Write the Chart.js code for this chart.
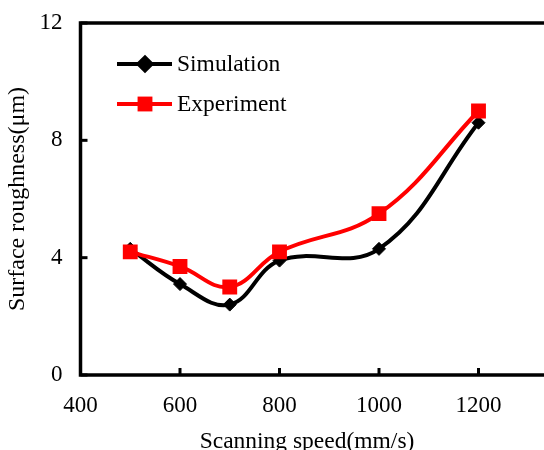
<!DOCTYPE html>
<html><head><meta charset="utf-8">
<script src="https://cdn.jsdelivr.net/npm/chart.js@4.4.1/dist/chart.umd.min.js"></script>
<style>
html,body{margin:0;padding:0;background:#fff;overflow:hidden}
#wrap{width:544px;height:450px;overflow:hidden;position:relative;background:#fff}
#c{position:absolute;left:0;top:0}
</style></head><body>
<div id="wrap"><canvas id="c" width="608" height="470"></canvas></div>
<script>
const speeds = [500, 600, 700, 800, 1000, 1200];
const simulation = [4.3, 3.1, 2.4, 3.9, 4.3, 8.6];
const experiment = [4.2, 3.7, 3.0, 4.2, 5.5, 9.0];
const xTicks = [400, 600, 800, 1000, 1200, 1400];
const yTicks = [0, 4, 8, 12];
const seriesNames = ['Simulation', 'Experiment'];
const xTitle = 'Scanning speed(mm/s)';
const yTitle = 'Surface roughness(\u03bcm)';

const FAMILY = "'Liberation Serif', 'Times New Roman', serif";
const FONT = {family: FAMILY, size: 23, weight: 'normal'};

const frame = {
  id: 'frame',
  beforeDatasetsDraw(chart) {
    const {ctx, chartArea: a, scales} = chart;
    ctx.save();
    ctx.strokeStyle = '#000';
    ctx.lineWidth = 3.5;
    ctx.strokeRect(a.left, a.top, a.right - a.left, a.bottom - a.top);
    ctx.lineWidth = 3;
    scales.x.ticks.forEach(t => {
      const px = scales.x.getPixelForValue(t.value);
      ctx.beginPath(); ctx.moveTo(px, a.bottom); ctx.lineTo(px, a.bottom - 7); ctx.stroke();
    });
    scales.y.ticks.forEach(t => {
      const py = scales.y.getPixelForValue(t.value);
      ctx.beginPath(); ctx.moveTo(a.left, py); ctx.lineTo(a.left + 7, py); ctx.stroke();
    });
    ctx.restore();
  }
};

const texts = {
  id: 'texts',
  afterDraw(chart) {
    const {ctx} = chart;
    ctx.save();
    chart.data.datasets.forEach((ds, i) => {
      const y = 64 + i * 40;
      ctx.strokeStyle = ds.borderColor;
      ctx.lineWidth = 4;
      ctx.beginPath(); ctx.moveTo(117, y); ctx.lineTo(172, y); ctx.stroke();
      ctx.fillStyle = ds.pointBackgroundColor;
      ctx.strokeStyle = ds.pointBorderColor;
      Chart.helpers.drawPoint(ctx, {pointStyle: ds.pointStyle, radius: ds.pointRadius, borderWidth: ds.pointBorderWidth, rotation: 0}, 145, y);
      ctx.fillStyle = '#000';
      ctx.font = "23.5px " + FAMILY;
      ctx.textBaseline = 'middle';
      ctx.textAlign = 'left';
      ctx.fillText(ds.label, 177, y + 1);
    });
    // x-axis title
    ctx.fillStyle = '#000';
    ctx.font = "23.5px " + FAMILY;
    ctx.textAlign = 'center';
    ctx.textBaseline = 'alphabetic';
    ctx.fillText(xTitle, 307, 448);
    ctx.restore();
  }
};

new Chart(document.getElementById('c'), {
  type: 'line',
  data: {
    datasets: [
      {
        label: seriesNames[0],
        data: speeds.map((s, i) => ({x: s, y: simulation[i]})),
        borderColor: '#000', backgroundColor: '#000',
        borderWidth: 4,
        pointStyle: 'rectRot', pointRadius: 6.5,
        pointBackgroundColor: '#000', pointBorderColor: '#000', pointBorderWidth: 1,
        tension: 0.4, order: 1
      },
      {
        label: seriesNames[1],
        data: speeds.map((s, i) => ({x: s, y: experiment[i]})),
        borderColor: '#ff0000', backgroundColor: '#ff0000',
        borderWidth: 4,
        pointStyle: 'rect', pointRadius: 10.5,
        pointBackgroundColor: '#ff0000', pointBorderColor: '#ff0000', pointBorderWidth: 0,
        tension: 0.4, order: 0
      }
    ]
  },
  options: {
    responsive: false,
    animation: false,
    devicePixelRatio: 1,
    layout: {padding: {top: 23, right: 30, left: 0, bottom: 0}},
    plugins: {
      legend: {display: false},
      tooltip: {enabled: false},
      title: {display: false}
    },
    scales: {
      x: {
        type: 'linear', min: 400, max: 1400,
        afterBuildTicks: s => { s.ticks = xTicks.map(v => ({value: v})); },
        afterFit: s => { s.height = 95; s.paddingLeft = 0; s.paddingRight = 0; },
        grid: {display: false, drawTicks: false},
        border: {display: false},
        ticks: {color: '#000', font: FONT, padding: 17, maxRotation: 0, callback: v => String(v)}
      },
      y: {
        type: 'linear', min: 0, max: 12,
        afterBuildTicks: s => { s.ticks = yTicks.map(v => ({value: v})); },
        afterFit: s => { s.width = 80.5; s.paddingTop = 0; s.paddingBottom = 0; },
        grid: {display: false, drawTicks: false},
        border: {display: false},
        ticks: {color: '#000', font: FONT, padding: 18, callback: v => String(v)},
        title: {display: true, text: yTitle, color: '#000', font: {family: FAMILY, size: 24, weight: 'normal'}, padding: {top: 3, bottom: 4}}
      }
    }
  },
  plugins: [frame, texts]
});
</script>
</body></html>
